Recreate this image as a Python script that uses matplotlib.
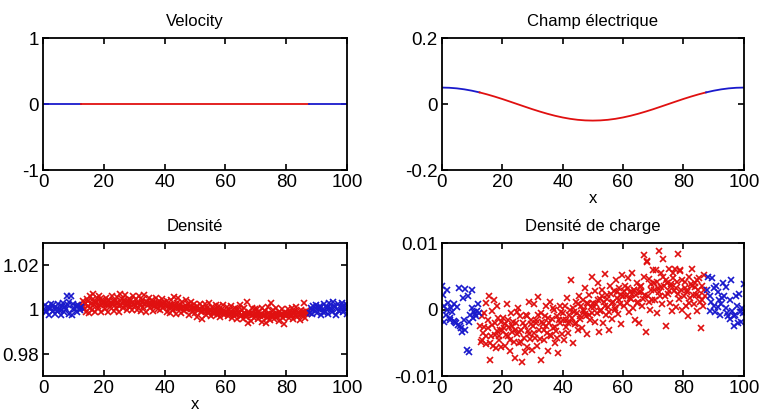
import numpy as np
import matplotlib
matplotlib.use("Agg")
import matplotlib.pyplot as plt

plt.rcParams["font.family"] = ["Liberation Sans", "DejaVu Sans"]

RED = "#e01010"
BLUE = "#1a1acc"

# velocity: flat at zero, split in three pieces (blue / red / blue)
vel_x = [0, 12.5, 87.5, 100]
vel_y = [0, 0, 0, 0]

# electric field, read at every 2.5 on x
E_x = [0, 2.5, 5, 7.5, 10, 12.5, 15, 17.5, 20, 22.5, 25, 27.5, 30, 32.5, 35, 37.5, 40, 42.5, 45, 47.5, 50,
       52.5, 55, 57.5, 60, 62.5, 65, 67.5, 70, 72.5, 75, 77.5, 80, 82.5, 85, 87.5, 90, 92.5, 95, 97.5, 100]
E_y = [0.050, 0.0494, 0.0476, 0.0446, 0.0405, 0.0354, 0.0294, 0.0227, 0.0155, 0.0078, 0.0,
       -0.0078, -0.0155, -0.0227, -0.0294, -0.0354, -0.0405, -0.0446, -0.0476, -0.0494, -0.050,
       -0.0494, -0.0476, -0.0446, -0.0405, -0.0354, -0.0294, -0.0227, -0.0155, -0.0078, 0.0,
       0.0078, 0.0155, 0.0227, 0.0294, 0.0354, 0.0405, 0.0446, 0.0476, 0.0494, 0.050]

# density, y given as (rho - 1) in units of 1e-3
rho_blue_l_x = [0.2, 0.6, 1.0, 1.4, 1.8, 2.3, 2.7, 3.1, 3.5, 4.0, 4.4, 4.8, 5.2, 5.7, 6.1, 6.5, 6.9, 7.4, 7.8, 8.2,
                8.6, 9.1, 9.5, 9.9, 10.3, 10.8, 11.2, 11.6, 12.0, 12.4, 0.8, 2.0, 3.3, 4.6, 5.9, 7.2, 8.4, 9.7, 11.0, 12.2]
rho_blue_l_y = [0.5, 2.0, -1.0, 1.2, -2.2, 0.3, 2.6, -0.5, 1.0, -1.8, 0.6, 2.4, -0.2, -2.6, 1.5, 3.0, -1.2, 0.4, 6.0, 2.2,
                -1.8, 6.2, -2.4, 2.8, 0.2, 1.6, -0.8, 2.0, 0.8, 1.2, -0.6, 0.8, 2.0, -0.4, 0.0, 1.4, 3.4, 0.2, 1.8, -0.2]
rho_blue_r_x = [87.8, 88.2, 88.6, 89.0, 89.5, 89.9, 90.3, 90.7, 91.2, 91.6, 92.0, 92.4, 92.9, 93.3, 93.7, 94.1, 94.6,
                95.0, 95.4, 95.8, 96.3, 96.7, 97.1, 97.5, 98.0, 98.4, 98.8, 99.2, 99.6, 99.9,
                88.4, 89.7, 91.0, 92.2, 93.5, 94.8, 96.0, 97.3, 98.6, 99.8]
rho_blue_r_y = [-1.5, 0.8, -2.0, 1.5, -0.6, 2.2, -1.4, 0.4, 1.8, -2.4, 0.2, 2.6, -0.8, 1.0, -2.0, 3.2, 0.6,
                -1.2, 3.6, 1.8, -2.6, 0.4, 2.8, -0.4, 1.2, 3.0, -1.0, 0.6, 2.4, -1.8,
                0.0, 0.6, 0.8, -0.8, 1.4, 0.2, 1.2, -0.6, 1.6, 0.4]
rho_red_x = [
    12.7, 13.0, 13.4, 13.7, 14.1, 14.4, 14.8, 15.1, 15.5, 15.8, 16.2, 16.5, 16.9, 17.2, 17.6, 17.9, 18.3, 18.6, 19.0,
    19.3, 19.7, 13.2, 13.9, 14.6, 15.3, 16.0, 16.7, 17.4, 18.1, 18.8, 19.5,
    20.0, 20.4, 20.7, 21.1, 21.4, 21.8, 22.1, 22.5, 22.8, 23.2, 23.5, 23.9, 24.2, 24.6, 24.9, 25.3, 25.6, 26.0, 26.3,
    26.7, 27.0, 27.4, 27.7, 28.1, 28.4, 28.8, 29.1, 29.5, 29.8, 20.2, 20.9, 21.6, 22.3, 23.0, 23.7, 24.4, 25.1, 25.8,
    26.5, 27.2, 27.9, 28.6, 29.3,
    30.1, 30.5, 30.8, 31.2, 31.5, 31.9, 32.2, 32.6, 32.9, 33.3, 33.6, 34.0, 34.3, 34.7, 35.0, 35.4, 35.7, 36.1, 36.4,
    36.8, 37.1, 37.5, 37.8, 38.2, 38.5, 38.9, 39.2, 39.6, 39.9, 30.3, 31.0, 31.7, 32.4, 33.1, 33.8, 34.5, 35.2, 35.9,
    36.6, 37.3, 38.0, 38.7, 39.4,
    40.2, 40.6, 40.9, 41.3, 41.6, 42.0, 42.3, 42.7, 43.0, 43.4, 43.7, 44.1, 44.4, 44.8, 45.1, 45.5, 45.8, 46.2, 46.5,
    46.9, 47.2, 47.6, 47.9, 48.3, 48.6, 49.0, 49.3, 49.7, 40.4, 41.1, 41.8, 42.5, 43.2, 43.9, 44.6, 45.3, 46.0, 46.7,
    47.4, 48.1, 48.8, 49.5,
    50.1, 50.5, 50.8, 51.2, 51.5, 51.9, 52.2, 52.6, 52.9, 53.3, 53.6, 54.0, 54.3, 54.7, 55.0, 55.4, 55.7, 56.1, 56.4,
    56.8, 57.1, 57.5, 57.8, 58.2, 58.5, 58.9, 59.2, 59.6, 59.9, 50.3, 51.0, 51.7, 52.4, 53.1, 53.8, 54.5, 55.2, 55.9,
    56.6, 57.3, 58.0, 58.7, 59.4,
    60.2, 60.6, 60.9, 61.3, 61.6, 62.0, 62.3, 62.7, 63.0, 63.4, 63.7, 64.1, 64.4, 64.8, 65.1, 65.5, 65.8, 66.2, 66.5,
    66.9, 67.2, 67.6, 67.9, 68.3, 68.6, 69.0, 69.3, 69.7, 60.4, 61.1, 61.8, 62.5, 63.2, 63.9, 64.6, 65.3, 66.0, 66.7,
    67.4, 68.1, 68.8, 69.5,
    70.1, 70.5, 70.8, 71.2, 71.5, 71.9, 72.2, 72.6, 72.9, 73.3, 73.6, 74.0, 74.3, 74.7, 75.0, 75.4, 75.7, 76.1, 76.4,
    76.8, 77.1, 77.5, 77.8, 78.2, 78.5, 78.9, 79.2, 79.6, 79.9, 70.3, 71.0, 71.7, 72.4, 73.1, 73.8, 74.5, 75.2, 75.9,
    76.6, 77.3, 78.0, 78.7, 79.4,
    80.2, 80.6, 80.9, 81.3, 81.6, 82.0, 82.3, 82.7, 83.0, 83.4, 83.7, 84.1, 84.4, 84.8, 85.1, 85.5, 85.8, 86.2, 86.5,
    86.9, 87.3, 80.4, 81.1, 81.8, 82.5, 83.2, 83.9, 84.6, 85.3, 86.0, 86.7]
rho_red_y = [
    2.0, 4.0, 0.5, 3.2, -1.0, 5.0, 1.5, -1.6, 6.0, 2.8, 0.0, 7.0, 3.5, -0.8, 5.2, 1.0, 6.4, 2.2, -1.2,
    4.2, 3.0, 1.2, 2.6, 3.8, 0.8, 4.4, 2.0, 3.4, 1.6, 4.8, 2.4,
    3.5, 0.2, 5.2, 2.0, -1.0, 4.6, 1.4, 6.0, 2.6, -0.4, 4.0, 1.0, 5.6, 3.0, -0.8, 7.2, 2.2, 4.8, 0.6,
    3.6, 6.8, 1.6, -0.2, 5.0, 2.8, 4.4, 0.0, 6.4, 2.4, 2.8, 3.6, 2.4, 3.2, 4.0, 2.0, 3.4, 1.8, 3.0,
    4.2, 2.6, 3.8, 1.4, 3.0,
    1.5, 4.8, 0.0, 3.2, 6.0, 2.0, -0.6, 4.4, 1.2, 6.8, 2.8, -1.0, 3.6, 5.2, 0.8, 2.4, 4.6, -0.4, 3.0,
    1.6, 5.4, 2.2, 0.2, 3.8, -0.2, 2.6, 4.8, 1.0, 3.4, 2.6, 3.0, 2.2, 3.4, 2.8, 3.6, 2.0, 3.2, 2.4,
    1.8, 3.0, 2.6, 2.0, 2.8,
    2.0, -0.8, 3.8, 1.0, -1.4, 4.4, 2.2, 0.0, 5.6, 1.4, -2.0, 3.0, 5.2, 0.6, 2.4, -1.6, 3.4, 1.2, -0.4,
    4.2, 0.4, 2.6, -2.2, 1.8, 3.6, -0.8, 1.0, 2.8, 1.8, 1.6, 2.2, 1.2, 2.0, 1.0, 1.6, 0.8, 1.4, 1.0,
    0.6, 1.2, 0.4, 0.8,
    -1.5, 1.8, -3.4, 0.4, 2.6, -1.0, -4.0, 1.2, -0.2, 2.8, -2.4, 0.6, -1.6, 3.0, -0.6, -3.0, 1.4, -1.8, 0.2,
    2.2, -2.6, -0.4, 1.6, -3.2, 0.0, -1.4, 2.0, -2.2, -0.8, 0.4, -0.2, 0.2, -0.6, 0.0, -0.4, -0.8, 0.0, -1.0,
    -0.6, -1.2, -0.2, -1.0, -1.4,
    -1.0, 1.4, -3.0, 0.0, -1.8, 1.8, -3.6, -0.6, 1.0, -2.6, -4.0, 0.4, -1.4, 2.0, -2.8, -0.2, -4.2, 1.0, -2.0,
    -3.4, 3.4, -6.0, -1.0, -5.2, 0.6, -2.4, -3.8, 0.2, -1.2, -1.6, -1.0, -2.0, -1.4, -1.8, -1.2, -2.2, -1.6, -2.4,
    -1.8, -2.0, -2.6, -1.8,
    -2.0, 0.2, -4.2, -1.0, -3.0, 0.8, -5.4, -2.4, -0.4, -6.2, -3.6, 1.2, -1.6, -4.6, 3.2, -2.8, -0.2, -4.0, -1.8,
    0.6, -3.4, -5.0, -1.2, -2.6, 0.4, -3.8, -6.6, -1.4, -2.8, -2.2, -2.6, -1.8, -3.0, -2.4, -2.0, -2.8, -2.2, -2.6,
    -3.0, -1.8, -2.4, -2.0, -2.6,
    -1.6, 0.4, -3.8, -1.0, -2.6, 0.8, -4.4, -0.4, -2.2, 1.2, -3.4, -1.2, -4.8, 0.0, -2.8, -1.6, 3.0, -3.6, -0.6,
    -2.0, -1.2, -2.0, -1.8, -2.4, -1.6, -2.2, -1.4, -2.0, -1.8, -1.2, -1.6]

# charge density, y in units of 1e-3
q_blue_l_x = [0.2, 0.5, 0.9, 1.3, 1.8, 2.2, 2.6, 3.0, 3.4, 3.9, 4.3, 4.8, 5.2, 5.6, 6.0, 6.5, 6.9, 7.3, 7.8, 8.2,
              8.6, 9.1, 9.5, 9.9, 10.4, 10.8, 11.2, 11.7, 12.1, 0.7, 1.6, 2.9, 4.1, 5.4, 6.7, 7.6, 8.9, 10.1, 11.0, 12.3]
q_blue_l_y = [3.5, 2.2, 0.5, -0.8, 3.0, 1.0, -1.5, 0.2, -0.4, 0.8, -1.9, -2.0, 0.4, 3.2, -2.4, -2.8, 1.8, -1.6, 3.1, -6.0,
              2.0, -6.3, -0.8, 3.0, -1.2, -0.3, -1.0, -0.2, 0.9, -1.8, 0.0, -1.3, -1.7, -2.3, -3.4, -3.0, -1.9, 0.3, -0.6, -0.5]
q_blue_r_x = [87.8, 88.3, 88.7, 89.2, 89.6, 90.0, 90.5, 90.9, 91.3, 91.8, 92.2, 92.6, 93.1, 93.5, 94.0, 94.4, 94.8,
              95.3, 95.7, 96.1, 96.6, 97.0, 97.4, 97.9, 98.3, 98.7, 99.2, 99.6, 99.9,
              88.9, 90.2, 91.6, 92.9, 94.2, 95.5, 96.8, 98.0, 99.4]
q_blue_r_y = [3.0, 5.0, 2.0, 1.2, 4.8, 0.5, -0.3, 3.5, 2.7, 1.5, -0.8, 0.9, 4.0, 2.0, 0.2, -0.5, -1.0,
              1.4, 4.5, -0.2, -2.5, -0.8, 2.1, 0.5, 2.4, -0.3, -1.8, -0.5, 3.8,
              -0.2, 3.2, 0.4, 1.8, 3.4, -1.4, -1.0, -2.0, 0.3]
q_red_x = [
    12.8, 13.1, 13.4, 13.8, 14.1, 14.5, 14.8, 15.2, 15.5, 15.9, 16.2, 16.6, 16.9, 17.3, 17.6, 18.0, 18.3, 18.7, 19.0,
    19.4, 19.7, 13.3, 14.0, 14.7, 15.4, 16.1, 16.8, 17.5, 18.2, 18.9, 19.6,
    20.1, 20.4, 20.8, 21.1, 21.5, 21.8, 22.2, 22.5, 22.9, 23.2, 23.6, 23.9, 24.3, 24.6, 25.0, 25.3, 25.7, 26.0, 26.4,
    26.7, 27.1, 27.4, 27.8, 28.1, 28.5, 28.8, 29.2, 29.5, 29.9, 20.6, 21.3, 22.0, 22.7, 23.4, 24.1, 24.8, 25.5, 26.2,
    26.9, 27.6, 28.3, 29.0, 29.7,
    30.2, 30.6, 30.9, 31.3, 31.6, 32.0, 32.3, 32.7, 33.0, 33.4, 33.7, 34.1, 34.4, 34.8, 35.1, 35.5, 35.8, 36.2, 36.5,
    36.9, 37.2, 37.6, 37.9, 38.3, 38.6, 39.0, 39.3, 39.7, 30.4, 31.1, 31.8, 32.5, 33.2, 33.9, 34.6, 35.3, 36.0, 36.7,
    37.4, 38.1, 38.8, 39.5,
    40.1, 40.5, 40.8, 41.2, 41.5, 41.9, 42.2, 42.6, 42.9, 43.3, 43.6, 44.0, 44.3, 44.7, 45.0, 45.4, 45.7, 46.1, 46.4,
    46.8, 47.1, 47.5, 47.8, 48.2, 48.5, 48.9, 49.2, 49.6, 49.9, 40.3, 41.0, 41.7, 42.4, 43.1, 43.8, 44.5, 45.2, 45.9,
    46.6, 47.3, 48.0, 48.7, 49.4,
    50.2, 50.6, 50.9, 51.3, 51.6, 52.0, 52.3, 52.7, 53.0, 53.4, 53.7, 54.1, 54.4, 54.8, 55.1, 55.5, 55.8, 56.2, 56.5,
    56.9, 57.2, 57.6, 57.9, 58.3, 58.6, 59.0, 59.3, 59.7, 50.4, 51.1, 51.8, 52.5, 53.2, 53.9, 54.6, 55.3, 56.0, 56.7,
    57.4, 58.1, 58.8, 59.5,
    60.1, 60.5, 60.8, 61.2, 61.5, 61.9, 62.2, 62.6, 62.9, 63.3, 63.6, 64.0, 64.3, 64.7, 65.0, 65.4, 65.7, 66.1, 66.4,
    66.8, 67.1, 67.5, 67.8, 68.2, 68.5, 68.9, 69.2, 69.6, 69.9, 60.3, 61.0, 61.7, 62.4, 63.1, 63.8, 64.5, 65.2, 65.9,
    66.6, 67.3, 68.0, 68.7, 69.4,
    70.2, 70.6, 70.9, 71.3, 71.6, 72.0, 72.3, 72.7, 73.0, 73.4, 73.7, 74.1, 74.4, 74.8, 75.1, 75.5, 75.8, 76.2, 76.5,
    76.9, 77.2, 77.6, 77.9, 78.3, 78.6, 79.0, 79.3, 79.7, 70.4, 71.1, 71.8, 72.5, 73.2, 73.9, 74.6, 75.3, 76.0, 76.7,
    77.4, 78.1, 78.8, 79.5,
    80.2, 80.6, 80.9, 81.3, 81.6, 82.0, 82.3, 82.7, 83.0, 83.4, 83.7, 84.1, 84.4, 84.8, 85.1, 85.5, 85.8, 86.2, 86.5,
    86.9, 87.2, 80.4, 81.1, 81.8, 82.5, 83.2, 83.9, 84.6, 85.3, 86.0, 86.7]
q_red_y = [
    -2.5, -4.8, -1.0, -3.5, -0.5, -5.2, 1.0, -2.8, 2.0, -7.5, -4.0, -0.2, -5.5, 1.5, -2.0, -5.8, -3.2, -1.2, -4.5,
    -3.0, -5.6, -4.5, -2.6, -4.0, -1.5, -5.0, -2.3, -3.8, 0.5, -4.0, -1.8,
    -3.0, -1.2, -5.5, -2.2, 0.8, -4.0, -2.6, -6.2, -0.5, -3.4, -1.8, -4.8, -7.3, -2.0, -3.6, 0.2, -5.0, -1.0, -3.0,
    -7.8, -4.2, -2.4, -0.8, -5.6, -3.2, 1.2, -4.4, -1.6, -6.0, -2.8, -3.8, -1.5, -4.6, -2.5, -3.0, -0.3, -3.4, -4.8,
    -2.0, -6.4, -1.0, -3.6, -2.2,
    -2.5, 0.8, -4.2, -1.5, -5.4, 1.9, -3.0, -0.5, -7.5, -2.2, -4.6, -1.0, 0.5, -3.5, -6.2, -2.0, 1.2, -4.0, -1.4,
    -2.8, 0.0, -5.0, -3.2, -1.0, -6.5, -2.0, 0.6, -3.6, -3.5, -2.0, -0.8, -4.4, -1.8, -3.0, -2.4, -1.2, -3.8, 0.2,
    -2.6, -4.2, -1.6, -0.4,
    -1.5, -4.5, 0.5, -2.6, 1.8, -3.5, -0.8, -1.8, 4.5, -5.0, 0.2, -2.2, 1.2, -0.5, -3.0, 2.0, -1.4, 0.6, -2.8,
    1.5, -0.2, 3.2, -1.0, -3.6, 0.8, 2.2, -1.6, 5.0, -0.5, -0.5, -1.5, -2.0, 0.0, -1.2, -0.4, -2.0, 0.8, -1.0,
    0.0, -0.6, 1.0, -0.8, 0.4,
    1.0, -1.8, 2.8, -0.5, 4.0, -3.4, 1.6, 0.0, 3.0, -2.0, 1.2, 5.4, -0.8, 2.2, 0.4, -3.0, 3.6, 1.0, -1.4,
    2.8, 0.2, 4.5, 1.8, -0.6, 3.2, 0.8, -2.2, 5.2, 0.4, 0.8, 1.4, -0.2, 2.0, 0.6, 1.6, -0.4, 2.4, 1.2,
    0.0, 2.6, 1.4, 2.2,
    2.0, 0.5, 3.5, 1.0, 4.8, -0.4, 2.6, 1.6, 5.5, 0.2, 3.0, -1.5, 2.2, 4.0, 1.2, -2.0, 3.4, 2.6, 0.6,
    5.0, 8.3, -3.3, 7.4, 2.0, 4.6, 0.0, 3.8, 1.4, 6.0, 2.8, 2.0, 3.2, 1.8, 2.4, 3.0, 1.0, 2.6, 3.6,
    1.6, 2.2, 7.2, 1.2, 3.0,
    4.0, 1.5, 6.0, -0.5, 3.2, 8.8, 2.0, 5.5, 0.8, 7.6, 3.5, -2.5, 4.5, 2.4, 6.2, 1.0, 3.8, -0.2, 5.6,
    2.8, 6.2, 0.4, 4.2, 8.4, 1.6, 5.8, 3.0, 0.0, 3.0, 4.2, 2.6, 3.4, 5.0, 2.0, 4.0, 2.8, 3.6, 4.8,
    3.2, 2.4, 6.0, 4.4,
    2.0, 4.2, 0.5, 3.0, -1.0, 5.0, 1.8, 3.6, 6.2, 0.8, 4.0, 2.2, -0.2, 3.0, 4.8, 1.2, -2.8, 3.6, 0.6,
    5.2, 2.0, 3.2, 2.6, 1.0, 3.8, 2.2, 3.4, 4.4, 2.0, 1.4, 3.0]

milli = 1e-3


def style_axes(ax, yticks, yticklabels, ylim):
    ax.set_xlim(0, 100)
    ax.set_ylim(*ylim)
    ax.set_xticks([0, 20, 40, 60, 80, 100])
    ax.set_yticks(yticks)
    ax.set_yticklabels(yticklabels)
    ax.tick_params(direction="in", top=True, right=True, length=4, width=1.2, labelsize=13.5, pad=3)
    for sp in ax.spines.values():
        sp.set_linewidth(1.3)


fig = plt.figure(figsize=(7.59, 4.18), dpi=100)
ax1 = fig.add_axes([0.057, 0.593, 0.400, 0.316])
ax2 = fig.add_axes([0.582, 0.593, 0.398, 0.316])
ax3 = fig.add_axes([0.057, 0.100, 0.400, 0.318])
ax4 = fig.add_axes([0.582, 0.100, 0.398, 0.318])

# Velocity
ax1.plot(vel_x[0:2], vel_y[0:2], color=BLUE, lw=1.3)
ax1.plot(vel_x[1:3], vel_y[1:3], color=RED, lw=1.3)
ax1.plot(vel_x[2:4], vel_y[2:4], color=BLUE, lw=1.3)
style_axes(ax1, [-1, 0, 1], ["-1", "0", "1"], (-1, 1))
ax1.set_title("Velocity", fontsize=12, pad=9)

# Champ electrique
ex = np.array(E_x)
ey = np.array(E_y)
left = ex <= 12.5
mid = (ex >= 12.5) & (ex <= 87.5)
right = ex >= 87.5
ax2.plot(ex[left], ey[left], color=BLUE, lw=1.3)
ax2.plot(ex[mid], ey[mid], color=RED, lw=1.3)
ax2.plot(ex[right], ey[right], color=BLUE, lw=1.3)
style_axes(ax2, [-0.2, 0, 0.2], ["-0.2", "0", "0.2"], (-0.2, 0.2))
ax2.set_title("Champ électrique", fontsize=12, pad=9)
ax2.set_xlabel("x", fontsize=12, labelpad=0)

# Densite
mk = dict(marker="x", linestyle="none", markersize=4, markeredgewidth=1.2)
ax3.plot(rho_red_x, 1 + np.array(rho_red_y) * milli, color=RED, **mk)
ax3.plot(rho_blue_l_x, 1 + np.array(rho_blue_l_y) * milli, color=BLUE, **mk)
ax3.plot(rho_blue_r_x, 1 + np.array(rho_blue_r_y) * milli, color=BLUE, **mk)
style_axes(ax3, [0.98, 1.0, 1.02], ["0.98", "1", "1.02"], (0.97, 1.03))
ax3.set_title("Densité", fontsize=12, pad=9)
ax3.set_xlabel("x", fontsize=12, labelpad=0)

# Densite de charge
ax4.plot(q_red_x, np.array(q_red_y) * milli, color=RED, **mk)
ax4.plot(q_blue_l_x, np.array(q_blue_l_y) * milli, color=BLUE, **mk)
ax4.plot(q_blue_r_x, np.array(q_blue_r_y) * milli, color=BLUE, **mk)
style_axes(ax4, [-0.01, 0, 0.01], ["-0.01", "0", "0.01"], (-0.01, 0.01))
ax4.set_title("Densité de charge", fontsize=12, pad=9)

fig.savefig("out.png", dpi=100)
